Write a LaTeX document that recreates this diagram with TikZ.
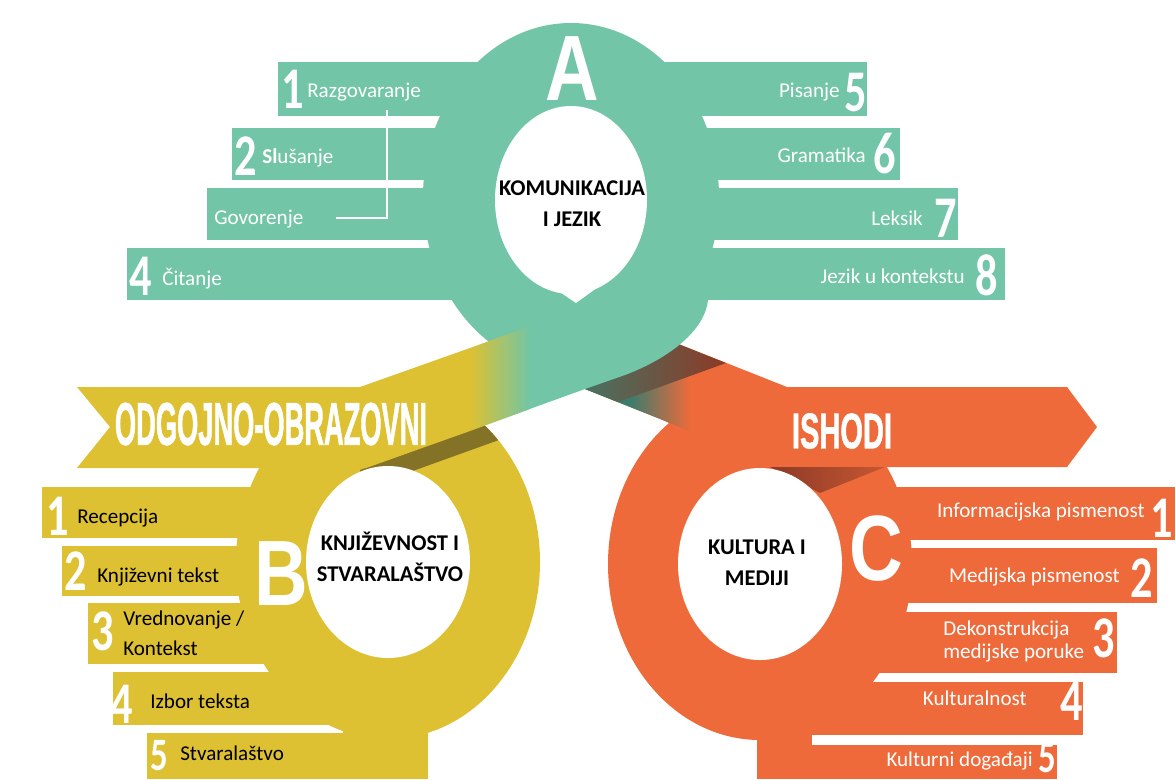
\documentclass[tikz,border=0pt]{standalone}
\usepackage{fontspec}
\usepackage{xcolor}
\usepackage{tikz}
\usepackage{graphicx}
\usetikzlibrary{calc, positioning}

\newfontfamily\labelfont{Carlito}
\newfontfamily\numfont{Carlito}[FakeStretch=0.75]
\newfontfamily\letterfont{Liberation Sans}[FakeStretch=0.8]
\newfontfamily\heavyfont{Liberation Sans}[FakeBold=1.5]

\definecolor{tealA}{HTML}{72C5A6}
\definecolor{yellowB}{HTML}{DDC132}
\definecolor{orangeC}{HTML}{EE6A3B}
\definecolor{oliveB}{HTML}{847327}
\definecolor{darkteal}{HTML}{3D7B6C}
\definecolor{darkred}{HTML}{8C3A26}

\begin{document}
\begin{tikzpicture}[x=0.025cm,y=-0.025cm,
                    lbl/.style={font=\labelfont\fontsize{15}{15}\selectfont,inner sep=0pt,text=white},
                    num/.style={font=\numfont\bfseries\fontsize{42}{42}\selectfont,inner sep=0pt,text=white},
                    low num/.style={num,font=\numfont\bfseries\fontsize{33}{33}\selectfont},
                    hub/.style={font=\labelfont\bfseries\fontsize{16}{22}\selectfont,align=center,inner sep=0pt,text=black},
                    letter/.style={font=\letterfont\bfseries\fontsize{66}{66}\selectfont,inner sep=0pt,text=white,anchor=base},
                    banner/.style={font=\heavyfont\bfseries,inner sep=0pt,text=white}]

  \useasboundingbox (0,0) rectangle (1176,779);

  % C
  \fill[orangeC] (760,487) rectangle (1175,540);
  \fill[orangeC] (760,548) rectangle (1157,603);
  \fill[orangeC] (760,612) rectangle (1117,673);
  \fill[orangeC] (760,682) rectangle (1083,735);
  \fill[orangeC] (757,745) rectangle (1057,779);
  \fill[orangeC] (757,700) rectangle (812,779);
  \fill[orangeC] (760,564) ellipse [x radius=152, y radius=176];
  \fill[orangeC] (560,297) -- (787,387) -- (1067,387) -- (1097,427) -- (1067,467)
                 -- (760,467) -- (663,420) -- (560,379) -- cycle;
  \fill[darkteal] (560,297) -- (630,325) -- (630,407) -- (560,379) -- cycle;
  \shade[left color=darkteal, right color=orangeC] (630,325) -- (690,349) -- (690,431) -- (630,407) -- cycle;
  \shade[left color=darkteal, right color=darkred] (560,297) -- (726,363) -- (618,402) -- (560,379) -- cycle;
  \shade[left color=darkred, right color=darkred!40!orangeC] (770,467) -- (885,467) -- (820,493) -- cycle;
  \fill[white] (760,564) ellipse [x radius=82, y radius=96];

  % B
  \fill[yellowB] (42,487) rectangle (388,538);
  \fill[yellowB] (62,546) rectangle (388,596);
  \fill[yellowB] (88,603) rectangle (388,664);
  \fill[yellowB] (113,672) rectangle (388,725);
  \fill[yellowB] (147,733) rectangle (428,779);
  \fill[yellowB] (343,700) rectangle (428,779);
  \fill[yellowB] (388,562) ellipse [x radius=152, y radius=177];
  \begin{scope}
    \clip (388,562) ellipse [x radius=152, y radius=177];
    \fill[oliveB] (360,470) -- (560,398) -- (560,418) -- (360,490) -- cycle;
  \end{scope}
  \fill[yellowB] (77,387) -- (360,387) -- (470,348) -- (470,431) -- (366,468)
                 -- (77,468) -- (110,427) -- cycle;

  % A
  \fill[tealA] (278,62) rectangle (571,116);
  \fill[tealA] (232,128) rectangle (571,180);
  \fill[tealA] (207,188) rectangle (571,240);
  \fill[tealA] (127,248) rectangle (571,300);
  \fill[tealA] (571,62) rectangle (867,116);
  \fill[tealA] (571,128) rectangle (900,180);
  \fill[tealA] (571,188) rectangle (958,240);
  \fill[tealA] (571,248) rectangle (1005,300);
  \fill[tealA] (571,197) ellipse [x radius=148, y radius=174];
  \fill[tealA] (488,340) -- (488,424) -- (585,389) -- (625,375)
               .. controls (670,358) and (705,330) .. (708,300) -- (571,250) -- cycle;
  \shade[left color=yellowB, right color=tealA] (470,348) -- (530,326) -- (530,409) -- (470,431) -- cycle;
  \fill[white] (571,200) ellipse [x radius=76, y radius=94];
  \fill[white] (545,282) -- (576,303) -- (605,282) -- cycle;
  \fill[white] (388,562) ellipse [x radius=82, y radius=96];

  \coordinate (g1) at (387,110);
  \coordinate (g2) at (387,218);
  \coordinate (g3) at (336,218);
  \draw[white, line width=1.8pt] (g1) -- (g2) -- (g3);

  % banners and letters
  \node[banner] (odg) at (271,424) {\resizebox{7.8cm}{1.05cm}{ODGOJNO-OBRAZOVNI}};
  \node[banner] (ish) at (842,431) {\resizebox{2.5cm}{0.87cm}{ISHODI}};
  \node[letter] (letA) at (572,100) {A};
  \node[letter] (letB) at (281,605) {B};
  \node[letter] (letC) at (876,580) {C};

  \node[hub] (hubA) at (572,204) {KOMUNIKACIJA\\I JEZIK};
  \node[hub] (hubB) at (390,557) {KNJIŽEVNOST I\\STVARALAŠTVO};
  \node[hub] (hubC) at (757,563) {KULTURA I\\MEDIJI};

  % A items
  \node[num,anchor=base west] (a1) at (281,108) {1};
  \node[lbl,anchor=base west] (a1t) at (307,97) {Razgovaranje};
  \node[num,anchor=base west] (a2) at (234,175) {2};
  \node[lbl,anchor=base west] (a2t) at (262,163) {{\bfseries Sl}ušanje};
  \node[lbl,anchor=base west] (a3t) at (214,224) {Govorenje};
  \node[num,anchor=base west] (a4) at (129,295) {4};
  \node[lbl,anchor=base west] (a4t) at (162,285) {Čitanje};
  \node[num,anchor=base east] (a5) at (867,111) {5};
  \node[lbl,anchor=base east] (a5t) at (840,97) {Pisanje};
  \node[num,anchor=base east] (a6) at (896,173) {6};
  \node[lbl,anchor=base east] (a6t) at (866,162) {Gramatika};
  \node[num,anchor=base east] (a7) at (957,237) {7};
  \node[lbl,anchor=base east] (a7t) at (923,225) {Leksik};
  \node[num,anchor=base east] (a8) at (998,295) {8};
  \node[lbl,anchor=base east] (a8t) at (965,283) {Jezik u kontekstu};

  % B items
  \node[num,anchor=base west] (b1) at (46,535) {1};
  \node[lbl,text=black,anchor=base west] (b1t) at (77,523) {Recepcija};
  \node[num,anchor=base west] (b2) at (64,590) {2};
  \node[lbl,text=black,anchor=base west] (b2t) at (97,582) {Književni tekst};
  \node[num,anchor=base west] (b3) at (91,650) {3};
  \node[lbl,text=black,anchor=base west] (b3t) at (123,625) {Vrednovanje /};
  \node[lbl,text=black,anchor=base west] (b3u) at (123,655) {Kontekst};
  \node[num,anchor=base west] (b4) at (110,723) {4};
  \node[lbl,text=black,anchor=base west] (b4t) at (150,708) {Izbor teksta};
  \node[low num,anchor=base west] (b5) at (150,770) {5};
  \node[lbl,text=black,anchor=base west] (b5t) at (180,760) {Stvaralaštvo};

  % C items
  \node[num,anchor=base east] (c1) at (1173,537) {1};
  \node[lbl,anchor=base east] (c1t) at (1145,517) {Informacijska pismenost};
  \node[num,anchor=base east] (c2) at (1153,597) {2};
  \node[lbl,anchor=base east] (c2t) at (1120,582) {Medijska pismenost};
  \node[num,anchor=base east] (c3) at (1115,657) {3};
  \node[lbl,anchor=base west] (c3t) at (943,635) {Dekonstrukcija};
  \node[lbl,anchor=base west] (c3u) at (943,658) {medijske poruke};
  \node[num,anchor=base east] (c4) at (1083,720) {4};
  \node[lbl,anchor=base east] (c4t) at (1027,705) {Kulturalnost};
  \node[low num,anchor=base east] (c5) at (1056,772) {5};
  \node[lbl,anchor=base east] (c5t) at (1033,766) {Kulturni događaji};

\end{tikzpicture}
\end{document}
